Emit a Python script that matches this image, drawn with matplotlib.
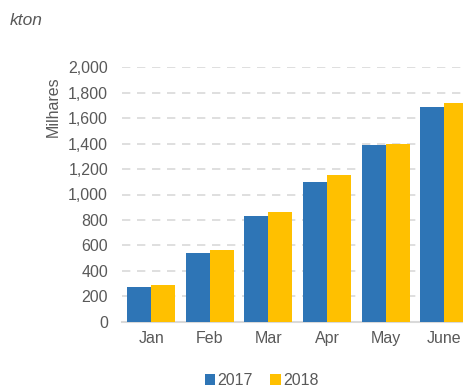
import matplotlib

matplotlib.use("Agg")
import matplotlib.pyplot as plt
import numpy as np
from matplotlib.ticker import FuncFormatter

months = ["Jan", "Feb", "Mar", "Apr", "May", "June"]
series_2017 = [275, 538, 833, 1098, 1392, 1685]
series_2018 = [290, 561, 862, 1153, 1397, 1719]

BLUE = "#2E75B6"
YELLOW = "#FFC000"
GREY = "#595959"
GRID = "#D9D9D9"

plt.rcParams["font.family"] = ["Liberation Sans", "DejaVu Sans"]

fig = plt.figure(figsize=(4.63, 3.89), dpi=100)
ax = fig.add_axes([0.2635, 0.173, 0.759, 0.654])

x = np.arange(len(months))
w = 0.41
ax.bar(x - w / 2, series_2017, width=w, color=BLUE, label="2017", zorder=3)
ax.bar(x + w / 2, series_2018, width=w, color=YELLOW, label="2018", zorder=3)

ax.set_xlim(-0.5, len(months) - 0.5)
ax.set_ylim(0, 2000)
ax.set_yticks(range(0, 2001, 200))
ax.yaxis.set_major_formatter(FuncFormatter(lambda v, p: f"{int(v):,}"))
ax.set_xticks(x)
ax.set_xticklabels(months)

ax.grid(axis="y", color=GRID, linestyle=(0, (5, 4)), linewidth=1.2, zorder=0)
for side in ["top", "right", "left"]:
    ax.spines[side].set_visible(False)
ax.spines["bottom"].set_color(GRID)
ax.spines["bottom"].set_linewidth(1.5)
ax.tick_params(axis="both", length=0, colors=GREY, labelsize=11.5)
ax.tick_params(axis="y", pad=10)
ax.tick_params(axis="x", pad=7)

fig.text(0.114, 0.725, "Milhares", rotation=90, color=GREY, fontsize=11.5,
         ha="center", va="center")
fig.text(0.02, 0.947, "kton", color=GREY, fontsize=12.5, style="italic",
         ha="left", va="center")

fig.legend(loc="center", bbox_to_anchor=(0.565, 0.022), ncol=2, frameon=False,
           fontsize=11.5, handlelength=0.65, handleheight=0.65, handletextpad=0.15,
           columnspacing=1.1, labelcolor=GREY)

fig.savefig("out.png", dpi=100)
